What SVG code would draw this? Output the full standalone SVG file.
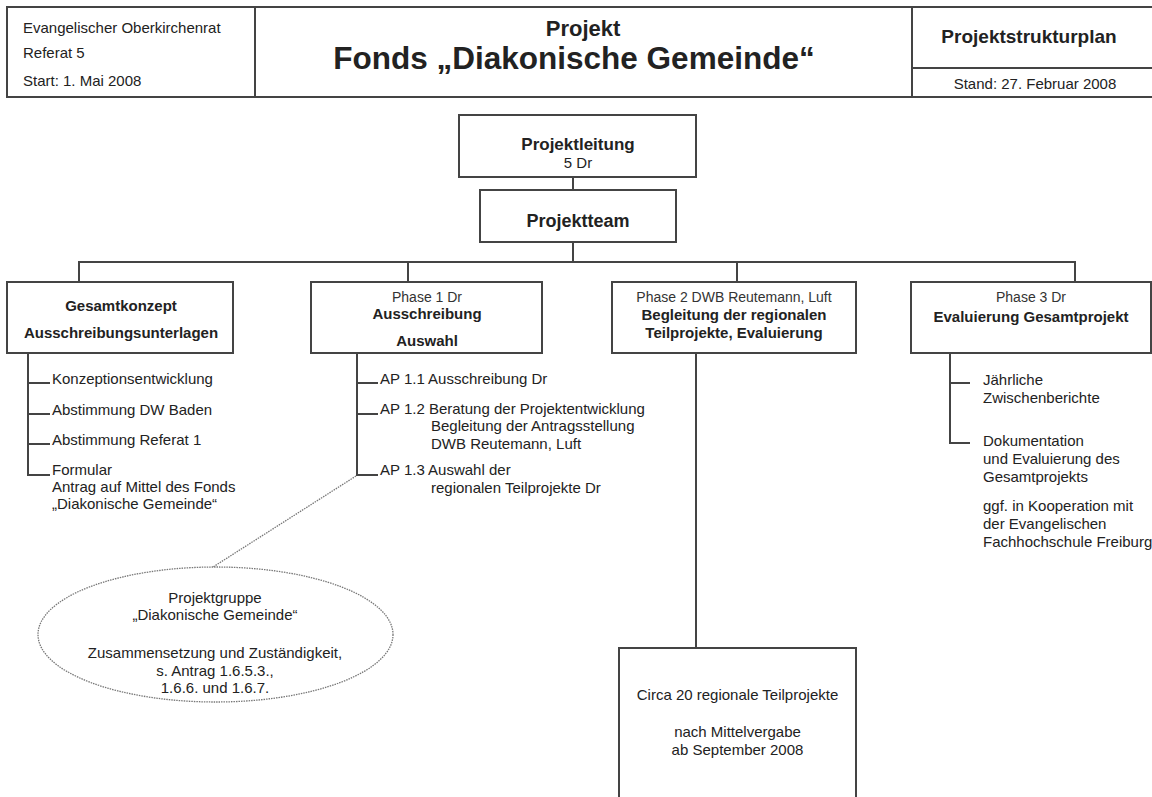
<svg xmlns="http://www.w3.org/2000/svg" width="1152" height="797" viewBox="0 0 1152 797">
<style>
text{font-family:"Liberation Sans",Arial,Helvetica,sans-serif;fill:#222}
.n{font-size:15px}
.s{font-size:14px;fill:#333}
.b{font-size:15px;font-weight:bold}
.c{text-anchor:middle}
.box{fill:#fff;stroke:#444;stroke-width:2}
.ln{fill:none;stroke:#444;stroke-width:2}
.dot{fill:none;stroke:#777;stroke-width:1.3;stroke-dasharray:1.5 1}
</style>
<rect width="1152" height="797" fill="#fff"/>
<g id="header">
<rect class="box" x="7" y="7" width="1150" height="90"/>
<line class="ln" x1="255" y1="7" x2="255" y2="97"/>
<line class="ln" x1="912" y1="7" x2="912" y2="97"/>
<line class="ln" x1="912" y1="68" x2="1152" y2="68"/>
<text class="n" x="23" y="33">Evangelischer Oberkirchenrat</text>
<text class="n" x="23" y="58">Referat 5</text>
<text class="n" x="23" y="86">Start: 1. Mai 2008</text>
<text class="c" x="583" y="36" style="font-size:22px;font-weight:bold">Projekt</text>
<text class="c" x="574" y="69" style="font-size:31.5px;font-weight:bold">Fonds „Diakonische Gemeinde“</text>
<text class="c" x="1029" y="43" style="font-size:19px;font-weight:bold">Projektstrukturplan</text>
<text class="n c" x="1035" y="89">Stand: 27. Februar 2008</text>
</g>
<g id="connectors">
<line class="ln" x1="573" y1="177" x2="573" y2="190"/>
<line class="ln" x1="573" y1="242" x2="573" y2="262"/>
<polyline class="ln" points="79,282 79,262 1075,262 1075,282"/>
<line class="ln" x1="408" y1="262" x2="408" y2="282"/>
<line class="ln" x1="737" y1="262" x2="737" y2="282"/>
<polyline class="ln" points="28,353 28,475 50,475"/>
<line class="ln" x1="28" y1="383" x2="50" y2="383"/>
<line class="ln" x1="28" y1="414" x2="50" y2="414"/>
<line class="ln" x1="28" y1="444" x2="50" y2="444"/>
<polyline class="ln" points="357,353 357,475 378,475"/>
<line class="ln" x1="357" y1="383" x2="378" y2="383"/>
<line class="ln" x1="357" y1="414" x2="378" y2="414"/>
<line class="ln" x1="696" y1="353" x2="696" y2="648"/>
<polyline class="ln" points="950,353 950,443 970,443"/>
<line class="ln" x1="950" y1="383" x2="970" y2="383"/>
<line class="dot" x1="356" y1="476" x2="213" y2="567"/>
</g>
<g id="projektleitung">
<rect class="box" x="459" y="115" width="237" height="62"/>
<text class="c" x="578" y="150" style="font-size:17px;font-weight:bold">Projektleitung</text>
<text class="n c" x="578" y="168">5 Dr</text>
</g>
<g id="projektteam">
<rect class="box" x="480" y="190" width="196" height="52"/>
<text class="c" x="578" y="227" style="font-size:18px;font-weight:bold">Projektteam</text>
</g>
<g id="gesamtkonzept">
<rect class="box" x="7" y="282" width="226" height="71"/>
<text class="b c" x="121" y="311">Gesamtkonzept</text>
<text class="b c" x="121" y="338">Ausschreibungsunterlagen</text>
<text class="n" x="52" y="384">Konzeptionsentwicklung</text>
<text class="n" x="52" y="415">Abstimmung DW Baden</text>
<text class="n" x="52" y="445">Abstimmung Referat 1</text>
<text class="n" x="52" y="475">Formular</text>
<text class="n" x="52" y="492">Antrag auf Mittel des Fonds</text>
<text class="n" x="52" y="509">„Diakonische Gemeinde“</text>
</g>
<g id="phase1">
<rect class="box" x="311" y="282" width="231" height="71"/>
<text class="s c" x="427" y="302">Phase 1 Dr</text>
<text class="b c" x="427" y="319">Ausschreibung</text>
<text class="b c" x="427" y="346">Auswahl</text>
<text class="n" x="380" y="384">AP 1.1 Ausschreibung Dr</text>
<text class="n" x="380" y="414">AP 1.2 Beratung der Projektentwicklung</text>
<text class="n" x="431" y="431">Begleitung der Antragsstellung</text>
<text class="n" x="431" y="449">DWB Reutemann, Luft</text>
<text class="n" x="380" y="475">AP 1.3 Auswahl der</text>
<text class="n" x="431" y="493">regionalen Teilprojekte Dr</text>
</g>
<g id="phase2">
<rect class="box" x="612" y="282" width="244" height="71"/>
<text class="s c" x="734" y="302">Phase 2 DWB Reutemann, Luft</text>
<text class="b c" x="734" y="320">Begleitung der regionalen</text>
<text class="b c" x="734" y="338">Teilprojekte, Evaluierung</text>
</g>
<g id="phase3">
<rect class="box" x="911" y="282" width="240" height="71"/>
<text class="s c" x="1031" y="302">Phase 3 Dr</text>
<text class="b c" x="1031" y="322">Evaluierung Gesamtprojekt</text>
<text class="n" x="983" y="385">Jährliche</text>
<text class="n" x="983" y="403">Zwischenberichte</text>
<text class="n" x="983" y="446">Dokumentation</text>
<text class="n" x="983" y="464">und Evaluierung des</text>
<text class="n" x="983" y="482">Gesamtprojekts</text>
<text class="n" x="983" y="511">ggf. in Kooperation mit</text>
<text class="n" x="983" y="529">der Evangelischen</text>
<text class="n" x="983" y="547">Fachhochschule Freiburg</text>
</g>
<g id="projektgruppe">
<ellipse class="dot" cx="215.5" cy="634.5" rx="177.5" ry="67.5"/>
<text class="n c" x="215" y="603">Projektgruppe</text>
<text class="n c" x="215" y="620">„Diakonische Gemeinde“</text>
<text class="n c" x="215" y="658">Zusammensetzung und Zuständigkeit,</text>
<text class="n c" x="215" y="676">s. Antrag 1.6.5.3.,</text>
<text class="n c" x="215" y="693">1.6.6. und 1.6.7.</text>
</g>
<g id="teilprojekte">
<polyline class="ln" points="619,800 619,648 856,648 856,800"/>
<text class="n c" x="737.5" y="700">Circa 20 regionale Teilprojekte</text>
<text class="n c" x="737.5" y="737">nach Mittelvergabe</text>
<text class="n c" x="737.5" y="755">ab September 2008</text>
</g>
</svg>
